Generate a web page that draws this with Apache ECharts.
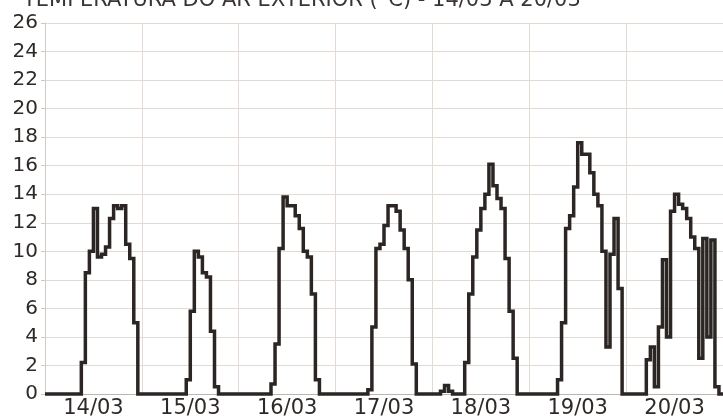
<!DOCTYPE html>
<html>
<head>
<meta charset="utf-8">
<script src="https://cdn.jsdelivr.net/npm/echarts@6/dist/echarts.min.js"></script>
<style>
html,body{margin:0;padding:0;background:#fff;}
#chart{width:723px;height:419px;}
</style>
</head>
<body>
<div id="chart"></div>
<script>
const titleText = 'TEMPERATURA DO AR EXTERIOR (°C) - 14/03 A 20/03';
const days = ['14/03', '15/03', '16/03', '17/03', '18/03', '19/03', '20/03'];
const yTicks = [0, 2, 4, 6, 8, 10, 12, 14, 16, 18, 20, 22, 24, 26];
// hourly temperature values, one array per day (hours 00..23)
const temp14 = [0,0,0,0,0,0,0,0,0, 2.2, 8.5, 10, 13, 9.6, 9.8, 10.3, 12.3, 13.2, 13, 13.2, 10.5, 9.5, 5, 0];
const temp15 = [0,0,0,0,0,0,0,0,0,0,0, 1, 5.8, 10, 9.6, 8.5, 8.2, 4.4, 0.5, 0,0,0,0,0];
const temp16 = [0,0,0,0,0,0,0,0, 0.7, 3.5, 10.2, 13.8, 13.2, 13.2, 12.5, 11.6, 10, 9.6, 7, 1, 0,0,0,0];
const temp17 = [0,0,0,0,0,0,0,0, 0.3, 4.7, 10.2, 10.5, 11.8, 13.2, 13.2, 12.8, 11.5, 10.2, 8, 2.1, 0,0,0,0];
const temp18 = [0,0, 0.2, 0.6, 0.2, 0,0,0, 2.2, 7, 9.6, 11.5, 13, 14, 16.1, 14.6, 13.7, 13, 9.5, 5.8, 2.5, 0,0,0];
const temp19 = [0,0,0,0,0,0,0, 1, 5, 11.6, 12.5, 14.5, 17.6, 16.8, 16.8, 15.5, 14, 13.2, 10, 3.3, 9.8, 12.3, 7.4, 0];
const temp20 = [0,0,0,0,0, 2.4, 3.3, 0.5, 4.7, 9.4, 4, 12.8, 14, 13.3, 13, 12.3, 11, 10.2, 2.5, 10.9, 4, 10.8, 0.5, 0];
const lastValue = 0; // 21/03 00h

const dayValues = [temp14, temp15, temp16, temp17, temp18, temp19, temp20];
const categories = [];
const values = [];
dayValues.forEach((arr, d) => {
  arr.forEach((v, h) => {
    categories.push(days[d] + ' ' + String(h).padStart(2, '0') + 'h');
    values.push(v);
  });
});
categories.push('21/03 00h');
values.push(lastValue);

const gridColor = '#e3dad4';
const chart = echarts.init(document.getElementById('chart'), null, {renderer: 'canvas'});
chart.setOption({
  animation: false,
  backgroundColor: '#ffffff',
  title: {
    text: titleText,
    left: 18,
    top: -15,
    textStyle: {fontFamily: 'DejaVu Sans', fontSize: 21, fontWeight: 'normal', color: '#3a3533'}
  },
  grid: {left: 45, right: -5, top: 23, bottom: 22, containLabel: false},
  xAxis: {
    type: 'category',
    data: categories,
    boundaryGap: false,
    axisLine: {show: true, lineStyle: {color: '#bdb6b0', width: 1}},
    axisTick: {show: false},
    axisLabel: {
      interval: (i) => i % 24 === 12,
      formatter: (v) => v.split(' ')[0],
      fontFamily: 'DejaVu Sans',
      fontSize: 21,
      color: '#2e2a28',
      margin: 4
    },
    splitLine: {
      show: true,
      interval: (i) => i % 24 === 0,
      lineStyle: {color: gridColor, width: 1}
    }
  },
  yAxis: {
    type: 'value',
    min: yTicks[0],
    max: yTicks[yTicks.length - 1],
    interval: 2,
    axisLine: {show: true, lineStyle: {color: '#cfc8c2', width: 1, type: 'dotted'}},
    axisTick: {show: true, length: 4, lineStyle: {color: '#cfc8c2'}},
    axisLabel: {
      fontFamily: 'DejaVu Sans',
      fontSize: 20,
      color: '#2e2a28',
      margin: 7
    },
    splitLine: {show: true, lineStyle: {color: gridColor, width: 1}}
  },
  series: [{
    type: 'line',
    data: values,
    step: 'end',
    showSymbol: false,
    symbol: 'none',
    clip: false,
    lineStyle: {color: '#2b2624', width: 3.5, join: 'miter'}
  }]
});
</script>
</body>
</html>
